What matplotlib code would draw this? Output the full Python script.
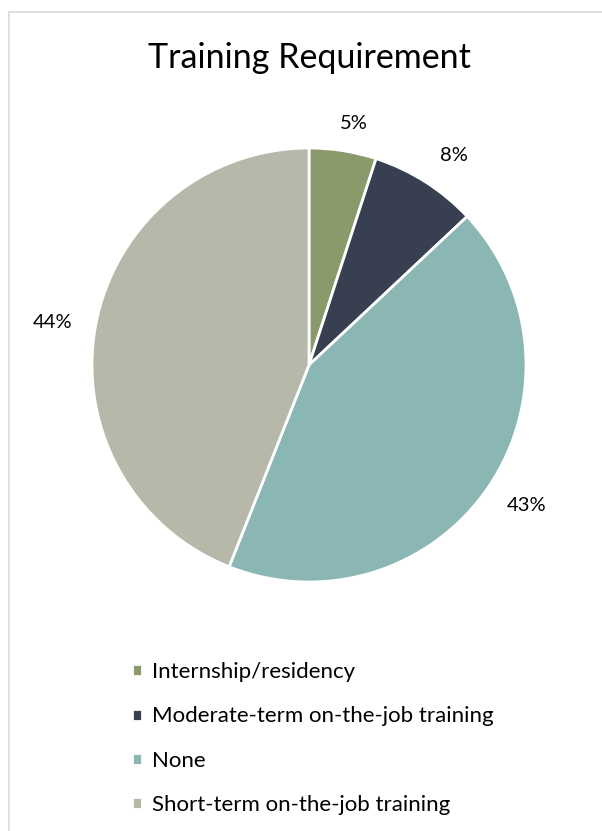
import matplotlib
matplotlib.use("Agg")
import numpy as np
import matplotlib.pyplot as plt
from matplotlib.patches import Rectangle

plt.rcParams["font.family"] = ["Lato", "DejaVu Sans"]

categories = ["Internship/residency", "Moderate-term on-the-job training",
              "None", "Short-term on-the-job training"]
shares = [5, 8, 43, 44]
colors = ["#8b9a6b", "#383f51", "#8ab6b4", "#b6b8aa"]
# data label placement: radius (in pie radii) and small angular nudge (deg)
label_radius = [1.134, 1.172, 1.196, 1.196]
label_nudge = [-1.5, -2.3, 1.3, 1.3]

W, H = 602, 831
fig = plt.figure(figsize=(W / 100, H / 100), dpi=100)

# light chart-area border
fig.patches.append(Rectangle((9 / W, -0.01), 1.0, 1 - 12 / H + 0.01,
                             transform=fig.transFigure, fill=False,
                             edgecolor="#d9d9d9", linewidth=1.2))

fig.text(309 / W, 1 - 58 / H, "Training Requirement", ha="center", va="center",
         fontsize=24.5, color="#000000")

cx, cy, r = 309, 365, 217
ax = fig.add_axes([(cx - r) / W, 1 - (cy + r) / H, 2 * r / W, 2 * r / H])
wedges, texts, autotexts = ax.pie(
    shares, colors=colors, startangle=90, counterclock=False,
    autopct="%d%%", pctdistance=1.17,
    wedgeprops=dict(edgecolor="white", linewidth=2),
    textprops=dict(fontsize=14.5, color="#000000"))

# push data labels out to best-fit style positions
for w, t, d, nudge in zip(wedges, autotexts, label_radius, label_nudge):
    ang = np.deg2rad((w.theta1 + w.theta2) / 2 + nudge)
    t.set_position((d * np.cos(ang), d * np.sin(ang)))

ax.set_xlim(-1, 1)
ax.set_ylim(-1, 1)
ax.set_aspect("equal")
ax.axis("off")

leg = fig.legend(wedges, categories, loc="upper left",
                 bbox_to_anchor=(112 / W, 1 - 642 / H), frameon=False,
                 fontsize=16, handlelength=0.45, handleheight=0.45,
                 handletextpad=0.45, labelspacing=1.1)

fig.savefig("out.png", dpi=100)
